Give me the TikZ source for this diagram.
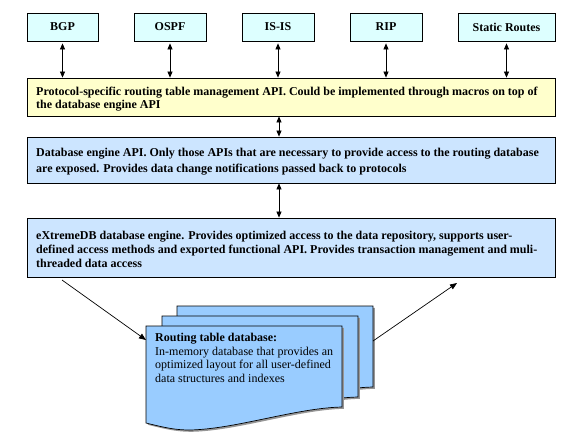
\documentclass[tikz,border=0pt]{standalone}
\usepackage{fontspec}
\setmainfont{LiberationSerif}[Extension=.ttf, UprightFont=*-Regular, BoldFont=*-Bold, ItalicFont=*-Italic, BoldItalicFont=*-BoldItalic]
\usetikzlibrary{arrows.meta}
\definecolor{protofill}{RGB}{221,255,255}
\definecolor{yellowfill}{RGB}{255,255,204}
\definecolor{bluefill}{RGB}{204,229,255}
\definecolor{docfill}{RGB}{153,204,255}
\definecolor{shadowgray}{RGB}{150,150,150}
\tikzset{
  protobox/.style={draw=black, line width=0.8pt, fill=protofill, minimum height=28pt, inner sep=0pt,
    font=\fontsize{12}{13}\selectfont\bfseries},
  layerbox/.style={draw=black, line width=0.8pt, minimum width=528pt, inner sep=0pt},
  layertext/.style={anchor=west, inner sep=0pt, align=left},
  dbl/.style={{Triangle[length=6pt,width=5pt]}-{Triangle[length=6pt,width=5pt]}, line width=0.7pt, black},
  sgl/.style={-{Triangle[length=7pt,width=5.5pt]}, line width=0.7pt, black},
  docpage/.style={draw=black, line width=0.7pt, fill=docfill},
  docshadow/.style={fill=shadowgray, draw=none},
}
\newcommand{\docpath}{(0,0) -- (196,0) -- (196,81) .. controls (150,82) and (90,103) .. (44,104) .. controls (30,104) and (20,102) .. (0,97) -- cycle}
\begin{document}
\begin{tikzpicture}[x=1pt,y=-1pt]
\useasboundingbox[fill=white] (0,0) rectangle (580,442);

% protocol boxes
\node[protobox, minimum width=71pt] (bgp) at (62.5,27) {BGP};
\node[protobox, minimum width=72pt] (ospf) at (170,27) {OSPF};
\node[protobox, minimum width=72pt] (isis) at (278,27) {IS-IS};
\node[protobox, minimum width=72pt] (rip) at (386,27) {RIP};
\node[protobox, minimum width=97pt] (static) at (506.5,27) {Static Routes};

% layer boxes
\node[layerbox, fill=yellowfill, minimum height=38pt] (proto) at (291,97) {};
\node[layertext, font=\fontsize{12}{13}\selectfont\bfseries] (protoT) at (36,99)
  {Protocol-specific routing table management API. Could be implemented through macros on top of\\the database engine API};
\node[layerbox, fill=bluefill, minimum height=46pt] (dbapi) at (291,160) {};
\node[layertext, font=\fontsize{12}{16.5}\selectfont\bfseries] (dbapiT) at (36,161.5)
  {Database engine API. Only those APIs that are necessary to provide access to the routing database\\are exposed. Provides data change notifications passed back to protocols};
\node[layerbox, fill=bluefill, minimum height=59pt] (engine) at (291,247.5) {};
\node[layertext, font=\fontsize{12}{14}\selectfont\bfseries] (engineT) at (36,249)
  {eXtremeDB database engine. Provides optimized access to the data repository, supports user-\\defined access methods and exported functional API. Provides transaction management and muli-\\threaded data access};

% arrows protocols <-> protocol API
\foreach \p in {bgp,ospf,isis,rip,static}{
  \draw[dbl, shorten <=2pt] (\p.south) -- (\p.south |- proto.north);
}
\draw[dbl] ([xshift=1pt]isis.south |- proto.south) -- ([xshift=1pt]isis.south |- dbapi.north);
\draw[dbl] ([xshift=1pt]isis.south |- dbapi.south) -- ([xshift=1pt]isis.south |- engine.north);

% document stack
\foreach \dx/\dy in {31/-20, 16/-10, 0/0}{
  \begin{scope}[shift={(146+\dx,326+\dy)}]
    \path[docshadow, shift={(1.8,1.8)}] \docpath;
    \path[docpage] \docpath;
  \end{scope}
}
\node[anchor=north west, inner sep=0pt, align=left, font=\fontsize{12}{13.7}\selectfont] (db) at (155,333)
  {\textbf{Routing table database:}\\In-memory database that provides an\\optimized layout for all user-defined\\data structures and indexes};

\coordinate (outstart) at (62,280);
\coordinate (docin) at (146,340);
\coordinate (docout) at (373,341);
\coordinate (backin) at (457,283);
\draw[sgl] (outstart) -- (docin);
\draw[sgl] (docout) -- (backin);
\end{tikzpicture}
\end{document}
